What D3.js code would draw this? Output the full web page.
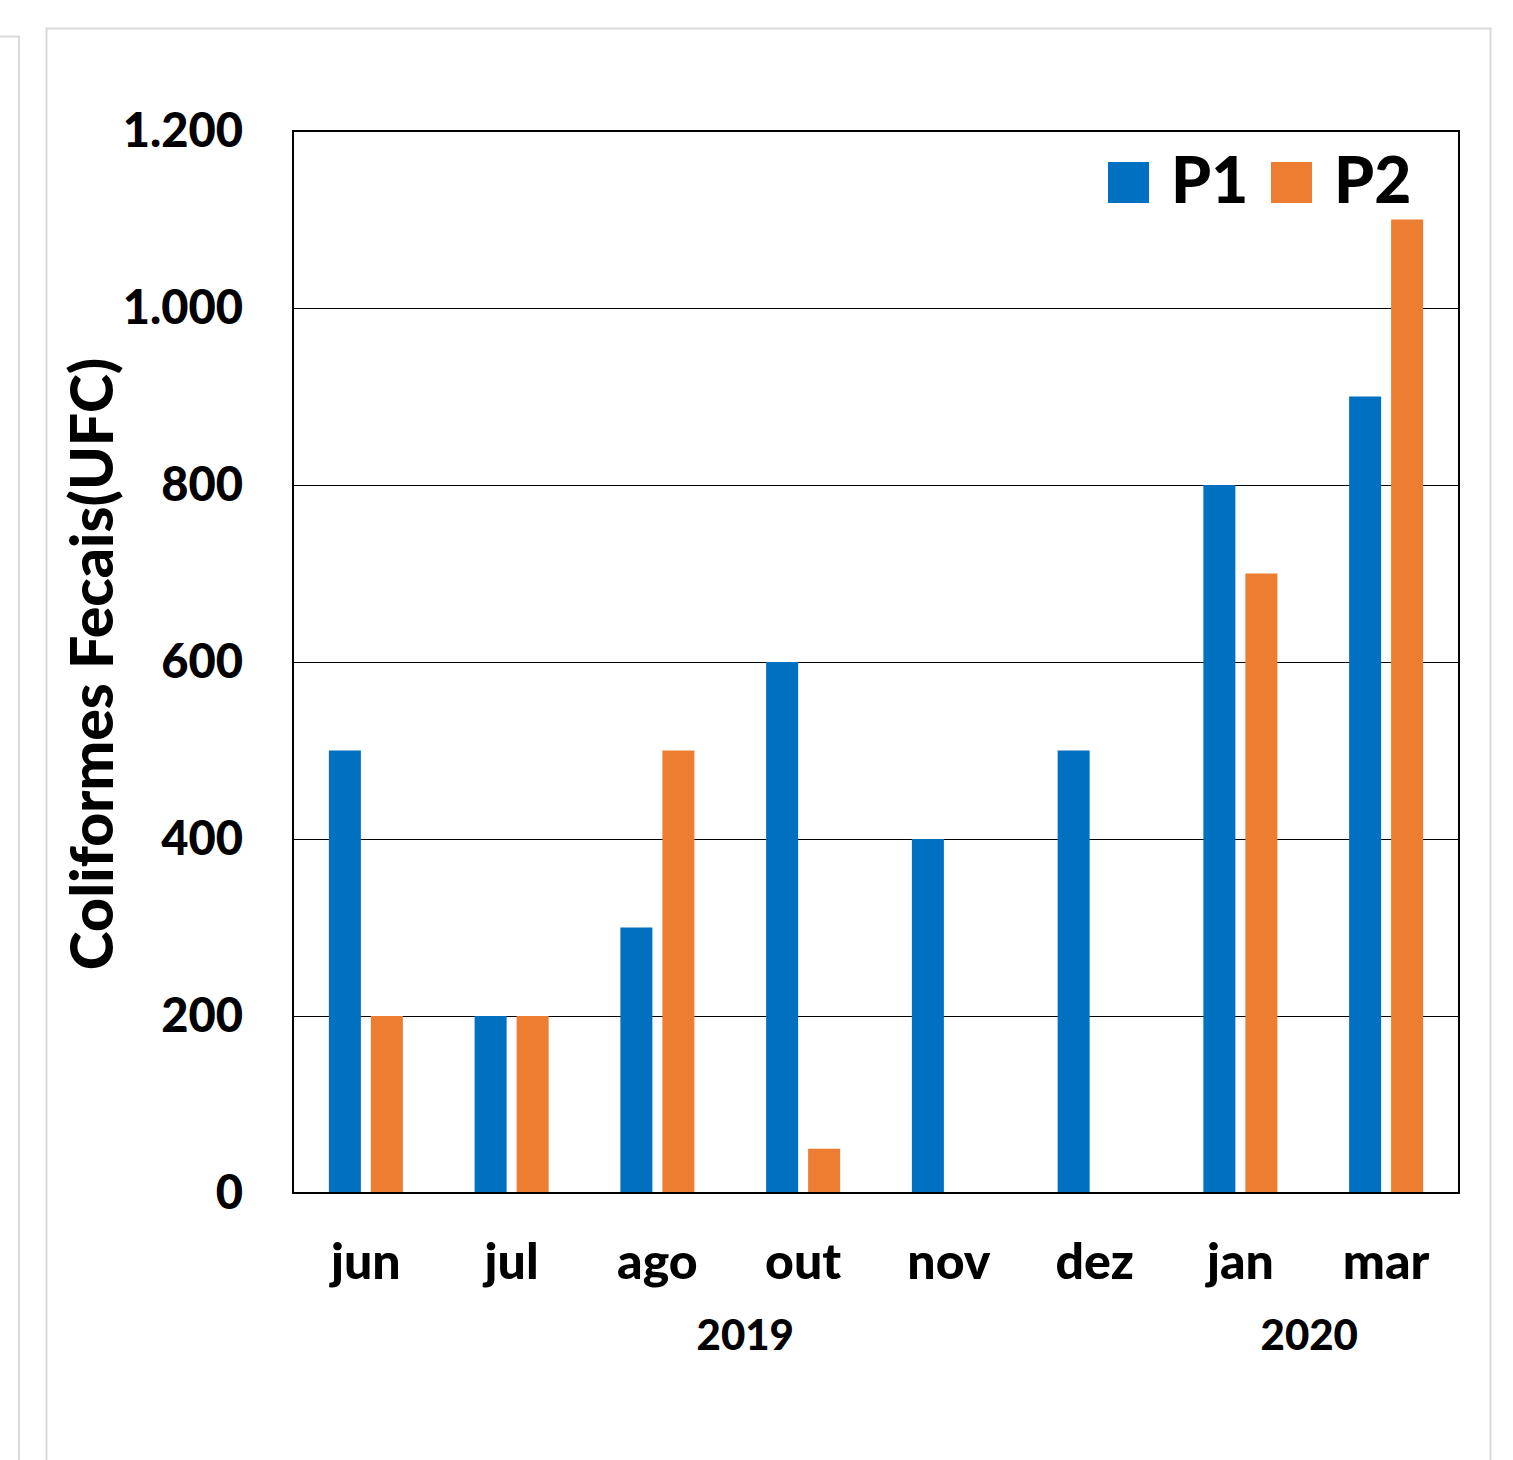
<!DOCTYPE html>
<html>
<head>
<meta charset="utf-8">
<script src="https://cdn.jsdelivr.net/npm/d3@7"></script>
<style>
  html, body { margin: 0; padding: 0; background: #fff; }
  svg { display: block; }
  text { font-family: Lato, "Open Sans", sans-serif; font-weight: 900; fill: #000; }
</style>
</head>
<body>
<svg id="chart" width="1513" height="1460"></svg>
<script>
// Monthly fecal coliform counts at two sampling points
const months = ["jun", "jul", "ago", "out", "nov", "dez", "jan", "mar"];
const seriesNames = ["P1", "P2"];
const p1Values = [500, 200, 300, 600, 400, 500, 800, 900];
const p2Values = [200, 200, 500, 50, 0, 0, 700, 1100];
const yTicks = [0, 200, 400, 600, 800, 1000, 1200];
const years = [
  { label: "2019", from: "jun", to: "dez" },
  { label: "2020", from: "jan", to: "mar" }
];
const colors = { P1: "#0070C0", P2: "#ED7D31" };

const svg = d3.select("#chart");

// Light panel frames behind the chart
svg.append("rect").attr("x", -10).attr("y", 36.5).attr("width", 29).attr("height", 1500)
  .attr("fill", "none").attr("stroke", "#d9d9d9").attr("stroke-width", 2);
svg.append("rect").attr("x", 46.5).attr("y", 28.5).attr("width", 1444).attr("height", 1500)
  .attr("fill", "#fff").attr("stroke", "#d9d9d9").attr("stroke-width", 2);

const plot = { left: 293, right: 1459, top: 131, bottom: 1193 };

const x = d3.scaleBand().domain(months).range([plot.left, plot.right]).paddingInner(0).paddingOuter(0);
const y = d3.scaleLinear().domain([0, 1200]).range([plot.bottom, plot.top]);

const fmt = v => d3.format(",")(v).replace(/,/g, ".");

// Horizontal gridlines
svg.append("g").selectAll("line").data(yTicks.filter(t => t > 0 && t < 1200)).join("line")
  .attr("x1", plot.left).attr("x2", plot.right)
  .attr("y1", d => Math.round(y(d)) + 0.5).attr("y2", d => Math.round(y(d)) + 0.5)
  .attr("stroke", "#000").attr("stroke-width", 1.2);

// Bars, two per month
const barW = 32, gap = 10;
const rows = [];
months.forEach((m, i) => {
  rows.push({ month: m, series: "P1", value: p1Values[i], offset: -(barW + gap / 2) });
  rows.push({ month: m, series: "P2", value: p2Values[i], offset: gap / 2 });
});
svg.append("g").selectAll("rect").data(rows.filter(d => d.value > 0)).join("rect")
  .attr("x", d => x(d.month) + x.bandwidth() / 2 + d.offset)
  .attr("y", d => y(d.value))
  .attr("width", barW)
  .attr("height", d => y(0) - y(d.value))
  .attr("fill", d => colors[d.series]);

// Plot border
svg.append("rect")
  .attr("x", plot.left).attr("y", plot.top)
  .attr("width", plot.right - plot.left).attr("height", plot.bottom - plot.top)
  .attr("fill", "none").attr("stroke", "#000").attr("stroke-width", 2);

// Y axis labels
const yAxis = d3.axisLeft(y).tickValues(yTicks).tickFormat(fmt).tickSize(0).tickPadding(50);
const yg = svg.append("g").attr("transform", `translate(${plot.left},0)`).call(yAxis);
yg.select(".domain").remove();
yg.selectAll("text").attr("font-size", 47).attr("font-family", "Lato, sans-serif").attr("font-weight", 900).attr("fill", "#000");

// X axis labels
const xAxis = d3.axisBottom(x).tickSize(0).tickPadding(50);
const xg = svg.append("g").attr("transform", `translate(0,${plot.bottom})`).call(xAxis);
xg.select(".domain").remove();
xg.selectAll("text").attr("font-size", 50).attr("font-family", "Lato, sans-serif").attr("font-weight", 900).attr("fill", "#000");

// Year group labels (nudged horizontally the way the category grouping places them)
const yearNudge = { "2019": 15, "2020": -4 };
svg.append("g").selectAll("text").data(years).join("text")
  .attr("x", d => (x(d.from) + x(d.to) + x.bandwidth()) / 2 + yearNudge[d.label])
  .attr("y", 1350)
  .attr("text-anchor", "middle")
  .attr("font-size", 42)
  .text(d => d.label);

// Y axis title
svg.append("text")
  .attr("transform", "translate(113,664) rotate(-90)")
  .attr("text-anchor", "middle")
  .attr("font-size", 59)
  .text("Coliformes Fecais(UFC)");

// Legend
const legend = svg.append("g").selectAll("g").data(seriesNames).join("g")
  .attr("transform", (d, i) => `translate(${1108 + i * 163},162)`);
legend.append("rect").attr("width", 41).attr("height", 41).attr("fill", d => colors[d]);
legend.append("text").attr("x", 63).attr("y", 41).attr("font-size", 64).text(d => d);
</script>
</body>
</html>
